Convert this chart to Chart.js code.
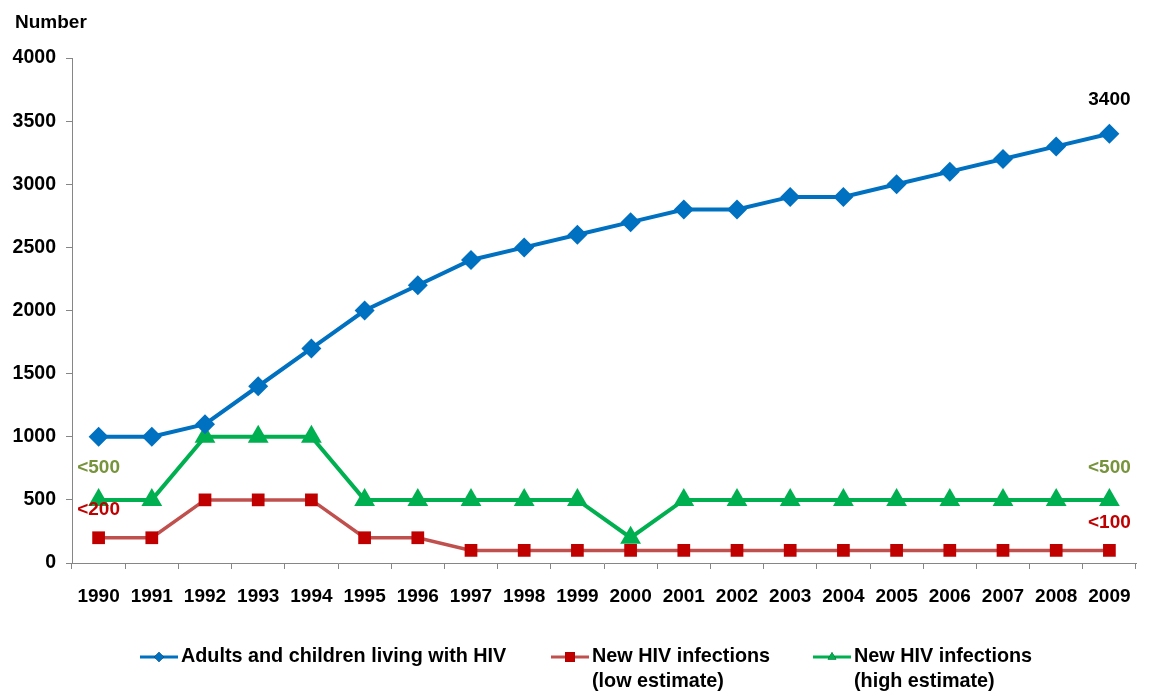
<!DOCTYPE html>
<html>
<head>
<meta charset="utf-8">
<title>HIV estimates 1990-2009</title>
<script src="https://cdn.jsdelivr.net/npm/chart.js@4.4.0/dist/chart.umd.min.js"></script>
<style>
  html, body { margin: 0; padding: 0; background: #fff; }
  #wrap { width: 1151px; height: 693px; }
</style>
</head>
<body>
<div id="wrap"><canvas id="chart" width="1151" height="693"></canvas></div>
<script>
// years on the x axis
const years = ['1990','1991','1992','1993','1994','1995','1996','1997','1998','1999',
               '2000','2001','2002','2003','2004','2005','2006','2007','2008','2009'];

const livingWithHiv = [1000,1000,1100,1400,1700,2000,2200,2400,2500,2600,
                       2700,2800,2800,2900,2900,3000,3100,3200,3300,3400];
const newLow  = [200,200,500,500,500,200,200,100,100,100,
                 100,100,100,100,100,100,100,100,100,100];
const newHigh = [500,500,1000,1000,1000,500,500,500,500,500,
                 200,500,500,500,500,500,500,500,500,500];

const yTicks = [0,500,1000,1500,2000,2500,3000,3500,4000];

// text placed above single points: [dataset, index, text, colour]
const pointNotes = [
  [0, 19, '3400', '#000000'],
  [2, 0,  '<500', '#77933C'],
  [2, 19, '<500', '#77933C'],
  [1, 0,  '<200', '#C00000'],
  [1, 19, '<100', '#C00000']
];

const legendItems = [
  { lines: ['Adults and children living with HIV'], color: '#0070C0', mark: '#0070C0', style: 'rectRot', x: 140 },
  { lines: ['New HIV infections', '(low estimate)'], color: '#C0504D', mark: '#C00000', style: 'rect', x: 551 },
  { lines: ['New HIV infections', '(high estimate)'], color: '#00B050', mark: '#00B050', style: 'triangle', x: 813 }
];

const FONT = '"Liberation Sans", Arial, sans-serif';

const notesPlugin = {
  id: 'notes',
  afterDatasetsDraw(chart) {
    const ctx = chart.ctx;
    ctx.save();
    ctx.font = 'bold 19px ' + FONT;
    ctx.textAlign = 'center';
    ctx.textBaseline = 'middle';
    pointNotes.forEach(([ds, i, txt, col]) => {
      const pt = chart.getDatasetMeta(ds).data[i];
      ctx.fillStyle = col;
      const dy = ds === 0 ? 34 : (ds === 2 ? 32 : 28);
      ctx.fillText(txt, pt.x, pt.y - dy);
    });
    // axis title
    ctx.fillStyle = '#000';
    ctx.textAlign = 'left';
    ctx.font = 'bold 19px ' + FONT;
    ctx.fillText('Number', 15, 23);
    ctx.restore();
  }
};

const legendPlugin = {
  id: 'bottomLegend',
  afterDraw(chart) {
    const ctx = chart.ctx;
    ctx.save();
    legendItems.forEach(item => {
      const y = 657;
      ctx.strokeStyle = item.color;
      ctx.lineWidth = 3;
      ctx.beginPath();
      ctx.moveTo(item.x, y);
      ctx.lineTo(item.x + 38, y);
      ctx.stroke();
      Chart.helpers.drawPoint(ctx, {
        pointStyle: item.style, radius: item.style === 'rect' ? 7 : 5,
        rotation: 0, borderWidth: 0
      }, item.x + 19, y);
      ctx.fillStyle = item.mark;
      ctx.fill();
      ctx.fillStyle = '#000';
      ctx.font = 'bold 19.8px ' + FONT;
      ctx.textAlign = 'left';
      ctx.textBaseline = 'middle';
      item.lines.forEach((ln, k) => ctx.fillText(ln, item.x + 41, y + k * 25));
    });
    ctx.restore();
  }
};

new Chart(document.getElementById('chart'), {
  type: 'line',
  data: {
    labels: years,
    datasets: [
      {
        label: 'Adults and children living with HIV',
        data: livingWithHiv,
        borderColor: '#0070C0',
        backgroundColor: '#0070C0',
        borderWidth: 4,
        pointStyle: 'rectRot',
        pointRadius: 10,
        pointBorderWidth: 0,
        tension: 0
      },
      {
        label: 'New HIV infections (low estimate)',
        data: newLow,
        borderColor: '#C0504D',
        backgroundColor: '#C00000',
        borderWidth: 3.5,
        pointStyle: 'rect',
        pointRadius: 9,
        pointBorderWidth: 0,
        tension: 0
      },
      {
        label: 'New HIV infections (high estimate)',
        data: newHigh,
        borderColor: '#00B050',
        backgroundColor: '#00B050',
        borderWidth: 4,
        pointStyle: 'triangle',
        pointRadius: 12,
        pointBorderWidth: 0,
        tension: 0
      }
    ]
  },
  options: {
    responsive: false,
    animation: false,
    layout: { padding: { top: 58, right: 15, bottom: 80, left: 0 } },
    plugins: {
      legend: { display: false },
      tooltip: { enabled: false }
    },
    scales: {
      x: {
        offset: true,
        grid: { offset: true, drawOnChartArea: false, color: '#868686', tickLength: 6, tickColor: '#868686' },
        border: { color: '#868686', width: 1 },
        ticks: { color: '#000', font: { family: FONT, size: 19, weight: 'bold' }, maxRotation: 0, autoSkip: false, padding: 16 },
        afterFit(s) { s.height = 50; }
      },
      y: {
        min: 0, max: 4000,
        afterBuildTicks(s) { s.ticks = yTicks.map(v => ({ value: v })); },
        grid: { drawOnChartArea: false, color: '#868686', tickLength: 6, tickColor: '#868686' },
        border: { color: '#868686', width: 1 },
        ticks: { color: '#000', font: { family: FONT, size: 19.5, weight: 'bold' }, padding: 10,
                 callback: v => String(v) },
        afterFit(s) { s.width = 72; }
      }
    }
  },
  plugins: [notesPlugin, legendPlugin]
});
</script>
</body>
</html>
